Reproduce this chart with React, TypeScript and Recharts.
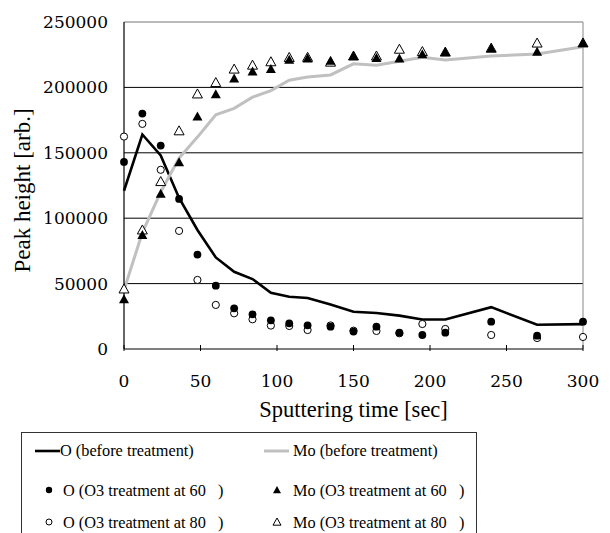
import React from 'react';
import { ComposedChart, Line, XAxis, YAxis, ReferenceLine } from 'recharts';

const times = [0, 12, 24, 36, 48, 60, 72, 84, 96, 108, 120, 135, 150, 165, 180, 195, 210, 240, 270, 300];
const oBefore = [121000, 164000, 148000, 115500, 91000, 70000, 59000, 53500, 43000, 40000, 39000, 34000, 28500, 27500, 25500, 22500, 22500, 32000, 18500, 19000];
const moBefore = [45000, 89000, 120000, 146000, 162000, 179000, 184000, 192500, 197500, 205500, 208000, 209500, 218000, 217000, 220000, 223000, 221000, 224000, 225500, 231000];
const o60 = [143000, 180000, 155500, 114700, 72200, 48400, 31100, 26500, 21900, 19600, 18100, 17100, 13300, 17100, 12500, 10700, 12500, 20900, 10200, 20900];
const o80 = [162400, 172100, 137000, 90300, 52800, 33700, 27300, 22700, 17900, 17600, 14500, 18000, 14000, 13800, 12000, 19100, 15300, 10700, 8400, 9200];
const mo60 = [38000, 87200, 118600, 142800, 177700, 194800, 206800, 212200, 214000, 221100, 222100, 220300, 224100, 222400, 222100, 225400, 227000, 230000, 227200, 233900];
const mo80 = [45900, 91000, 128000, 166800, 195000, 203700, 214000, 217000, 219600, 222900, 223000, 219300, 224000, 224000, 229200, 227400, 227000, 230000, 233900, 234000];

const xTicks = [0, 50, 100, 150, 200, 250, 300];
const yTicks = [0, 50000, 100000, 150000, 200000, 250000];
const gridValues = [50000, 100000, 150000, 200000];

const legendItems = {
  oBefore: 'O (before treatment)',
  moBefore: 'Mo (before treatment)',
  o60: 'O (O3 treatment at 60',
  mo60: 'Mo (O3 treatment at 60',
  o80: 'O (O3 treatment at 80',
  mo80: 'Mo (O3 treatment at 80',
};

const data = times.map((t, i) => ({
  t,
  oBefore: oBefore[i],
  moBefore: moBefore[i],
  o60: o60[i],
  o80: o80[i],
  mo60: mo60[i],
  mo80: mo80[i],
}));

const serif = "'Liberation Serif', serif";
const tickFont = "'DejaVu Serif', serif";

const triPts = (cx: number, cy: number, s: number) =>
  `${cx},${cy - s} ${cx - s},${cy + s * 0.8} ${cx + s},${cy + s * 0.8}`;

const FilledCircle = (p: any) =>
  p.cx == null ? <g key={p.key} /> : <circle key={p.key} cx={p.cx} cy={p.cy} r={3.9} fill="#000" />;
const OpenCircle = (p: any) =>
  p.cx == null ? <g key={p.key} /> : (
    <circle key={p.key} cx={p.cx} cy={p.cy} r={3.6} fill="#fff" stroke="#000" strokeWidth={1} />
  );
const FilledTri = (p: any) =>
  p.cx == null ? <g key={p.key} /> : <polygon key={p.key} points={triPts(p.cx, p.cy, 5)} fill="#000" />;
const OpenTri = (p: any) =>
  p.cx == null ? <g key={p.key} /> : (
    <polygon key={p.key} points={triPts(p.cx, p.cy, 5)} fill="#fff" stroke="#000" strokeWidth={1} />
  );

const XTick = (p: any) => (
  <g>
    <line x1={p.x} y1={p.y} x2={p.x} y2={p.y - 6} stroke="#000" strokeWidth={1} />
    <text x={p.x} y={p.y + 36} textAnchor="middle" style={{ fontFamily: tickFont, fontSize: 17 }} fill="#000">
      {p.payload.value}
    </text>
  </g>
);

const YTick = (p: any) => (
  <text x={p.x} y={p.y + 6} textAnchor="end" style={{ fontFamily: tickFont, fontSize: 17 }} fill="#000">
    {p.payload.value}
  </text>
);

const YLabel = (p: any) => {
  const vb = p.viewBox || { x: 0, y: 22, width: 124, height: 327 };
  const x = 30;
  const y = vb.y + vb.height / 2 + 5;
  return (
    <text x={x} y={y} transform={`rotate(-90, ${x}, ${y})`} textAnchor="middle" style={{ fontFamily: serif, fontSize: 23 }} fill="#000">
      Peak height [arb.]
    </text>
  );
};

const XLabel = (p: any) => {
  const vb = p.viewBox || { x: 124, y: 349, width: 459, height: 83 };
  return (
    <text x={vb.x + vb.width / 2} y={417} textAnchor="middle" style={{ fontFamily: serif, fontSize: 22.5 }} fill="#000">
      Sputtering time [sec]
    </text>
  );
};

const Legend = () => {
  const ts = { fontFamily: serif, fontSize: 16.3 };
  return (
    <svg width={610} height={533} style={{ position: 'absolute', left: 0, top: 0, pointerEvents: 'none' }}>
      <rect x={21.5} y={432.5} width={455} height={120} fill="#fff" stroke="#333" strokeWidth={1} />
      <line x1={35} y1={451} x2={60} y2={451} stroke="#000" strokeWidth={2.6} />
      <text x={60} y={456} style={ts} fill="#000">{legendItems.oBefore}</text>
      <line x1={264} y1={451} x2={289} y2={451} stroke="#c0c0c0" strokeWidth={3} />
      <text x={293} y={456} style={ts} fill="#000">{legendItems.moBefore}</text>

      <circle cx={49} cy={490} r={3.2} fill="#000" />
      <text x={63} y={496} style={ts} fill="#000">{legendItems.o60}</text>
      <text x={218} y={496} style={ts} fill="#000">)</text>
      <polygon points={triPts(277, 490, 4)} fill="#000" />
      <text x={293} y={496} style={ts} fill="#000">{legendItems.mo60}</text>
      <text x={459} y={496} style={ts} fill="#000">)</text>

      <circle cx={49} cy={522} r={3} fill="#fff" stroke="#000" strokeWidth={1} />
      <text x={63} y={528} style={ts} fill="#000">{legendItems.o80}</text>
      <text x={218} y={528} style={ts} fill="#000">)</text>
      <polygon points={triPts(277, 522, 4)} fill="#fff" stroke="#000" strokeWidth={1} />
      <text x={293} y={528} style={ts} fill="#000">{legendItems.mo80}</text>
      <text x={459} y={528} style={ts} fill="#000">)</text>
    </svg>
  );
};

export default function App() {
  return (
    <div style={{ position: 'absolute', left: 0, top: 0, width: 610, height: 533, background: '#fff', overflow: 'hidden', fontFamily: serif }}>
      <ComposedChart width={610} height={432} data={data} margin={{ top: 22, right: 27, bottom: 0, left: 0 }}>
        <XAxis
          dataKey="t"
          type="number"
          domain={[0, 300]}
          ticks={xTicks}
          height={83}
          tickSize={0}
          tickLine={false}
          tick={<XTick />}
          axisLine={{ stroke: '#000', strokeWidth: 1.2 }}
          label={<XLabel />}
          interval={0}
        />
        <YAxis
          type="number"
          domain={[0, 250000]}
          ticks={yTicks}
          width={124}
          tickSize={0}
          tickLine={false}
          tickMargin={16}
          tick={<YTick />}
          axisLine={{ stroke: '#000', strokeWidth: 1.2 }}
          label={<YLabel />}
          interval={0}
        />
        {gridValues.map((v) => (
          <ReferenceLine key={v} y={v} stroke="#000" strokeWidth={1} />
        ))}
        <ReferenceLine y={250000} stroke="#777" strokeWidth={1} />
        <ReferenceLine x={300} stroke="#888" strokeWidth={1} />
        <Line type="linear" dataKey="oBefore" stroke="#000" strokeWidth={2.6} dot={false} activeDot={false} isAnimationActive={false} />
        <Line type="linear" dataKey="moBefore" stroke="#c0c0c0" strokeWidth={3} dot={false} activeDot={false} isAnimationActive={false} />
        <Line dataKey="o80" stroke="none" dot={OpenCircle} activeDot={false} isAnimationActive={false} />
        <Line dataKey="mo80" stroke="none" dot={OpenTri} activeDot={false} isAnimationActive={false} />
        <Line dataKey="o60" stroke="none" dot={FilledCircle} activeDot={false} isAnimationActive={false} />
        <Line dataKey="mo60" stroke="none" dot={FilledTri} activeDot={false} isAnimationActive={false} />
      </ComposedChart>
      <Legend />
    </div>
  );
}
